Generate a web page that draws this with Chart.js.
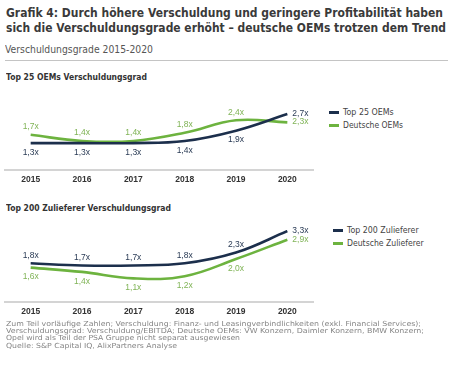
<!DOCTYPE html>
<html>
<head>
<meta charset="utf-8">
<script src="https://cdn.jsdelivr.net/npm/chart.js@4/dist/chart.umd.min.js"></script>
<style>
  html, body { margin:0; padding:0; background:#fff; }
  body { width:452px; height:367px; position:relative; overflow:hidden; font-family:"DejaVu Sans", Verdana, sans-serif; }
  .t { position:absolute; white-space:nowrap; transform-origin:0 50%; }
  canvas { position:absolute; left:0; }
  .leg { position:absolute; height:12px; }
  .leg i { position:absolute; left:0; top:5px; width:10px; height:3px; }
</style>
</head>
<body>
<div class="t" data-w="437" style="left:6px;top:4.5px;font-size:13px;line-height:16px;font-weight:bold;color:#3a3a3a;">Grafik 4: Durch höhere Verschuldung und geringere Profitabilität haben</div>
<div class="t" data-w="440" style="left:6px;top:20px;font-size:13px;line-height:16px;font-weight:bold;color:#3a3a3a;">sich die Verschuldungsgrade erhöht – deutsche OEMs trotzen dem Trend</div>
<div class="t" data-w="148" style="left:5px;top:43.5px;font-size:10px;line-height:12px;color:#555;">Verschuldungsgrade 2015-2020</div>
<div style="position:absolute;left:5px;top:60px;width:443px;height:1px;background:#c4c4c4;"></div>

<div class="t" data-w="141" style="left:6px;top:72px;font-size:8.5px;line-height:11px;font-weight:bold;color:#333;">Top 25 OEMs Verschuldungsgrad</div>
<canvas id="c1" width="320" height="100" style="top:90px;"></canvas>
<div class="leg" style="left:329px;top:106px;"><i style="background:#1c2f4c"></i></div>
<div class="t" data-w="50.7" style="left:342.7px;top:106px;font-size:8.5px;line-height:12px;color:#444;">Top 25 OEMs</div>
<div class="leg" style="left:329px;top:118.5px;"><i style="background:#6db33f"></i></div>
<div class="t" data-w="60" style="left:342.7px;top:118.5px;font-size:8.5px;line-height:12px;color:#444;">Deutsche OEMs</div>

<div class="t" data-w="165" style="left:6px;top:203px;font-size:8.5px;line-height:11px;font-weight:bold;color:#333;">Top 200 Zulieferer Verschuldungsgrad</div>
<canvas id="c2" width="320" height="102" style="top:220px;"></canvas>
<div class="leg" style="left:333px;top:223.5px;"><i style="background:#1c2f4c"></i></div>
<div class="t" data-w="71.7" style="left:346.7px;top:223.5px;font-size:8.5px;line-height:12px;color:#444;">Top 200 Zulieferer</div>
<div class="leg" style="left:333px;top:237px;"><i style="background:#6db33f"></i></div>
<div class="t" data-w="76.7" style="left:346.7px;top:237px;font-size:8.5px;line-height:12px;color:#444;">Deutsche Zulieferer</div>

<div class="t" data-w="415" style="left:6px;top:320px;font-size:7px;line-height:8px;color:#858585;">Zum Teil vorläufige Zahlen; Verschuldung: Finanz- und Leasingverbindlichkeiten (exkl. Financial Services);</div>
<div class="t" data-w="418" style="left:6px;top:327.3px;font-size:7px;line-height:8px;color:#858585;">Verschuldungsgrad: Verschuldung/EBITDA; Deutsche OEMs: VW Konzern, Daimler Konzern, BMW Konzern;</div>
<div class="t" data-w="234" style="left:6px;top:334.3px;font-size:7px;line-height:8px;color:#858585;">Opel wird als Teil der PSA Gruppe nicht separat ausgewiesen</div>
<div class="t" data-w="171" style="left:6px;top:341.7px;font-size:7px;line-height:8px;color:#858585;">Quelle: S&amp;P Capital IQ, AlixPartners Analyse</div>

<script>
// ---- data ----
const years = ['2015', '2016', '2017', '2018', '2019', '2020'];
const oemTop25 = [1.3, 1.3, 1.3, 1.4, 1.9, 2.7];
const oemDeutsche = [1.7, 1.4, 1.4, 1.8, 2.4, 2.3];
const zulTop200 = [1.8, 1.7, 1.7, 1.8, 2.3, 3.3];
const zulDeutsche = [1.6, 1.4, 1.1, 1.2, 2.0, 2.9];

const NAVY = '#1c2f4c', GREEN = '#6db33f';
const NAVY_TXT = '#2a3b55', GREEN_TXT = '#80b457';

// fit text widths
document.querySelectorAll('.t[data-w]').forEach(el => {
  const w = el.getBoundingClientRect().width;
  const target = parseFloat(el.dataset.w);
  el.style.transform = 'scaleX(' + (target / w) + ')';
});

const fmt = v => v.toFixed(1).replace('.', ',') + 'x';

const labelPlugin = {
  id: 'valueLabels',
  afterDatasetsDraw(chart) {
    const ctx = chart.ctx;
    ctx.save();
    ctx.font = '8.5px "Liberation Sans", Arial, sans-serif';
    ctx.textBaseline = 'middle';
    chart.data.datasets.forEach((ds, i) => {
      const meta = chart.getDatasetMeta(i);
      meta.data.forEach((pt, j) => {
        const last = j === meta.data.length - 1;
        ctx.fillStyle = ds.labelColor;
        if (last) {
          ctx.textAlign = 'left';
          ctx.fillText(fmt(ds.data[j]), pt.x + 5, pt.y - 0.5);
        } else {
          ctx.textAlign = 'center';
          const dy = ds.labelPos === 'above' ? -8 : 9.5;
          ctx.fillText(fmt(ds.data[j]), pt.x, pt.y + dy);
        }
      });
    });
    ctx.restore();
  }
};

function makeChart(id, a, b, labels, max) {
  return new Chart(document.getElementById(id), {
    type: 'line',
    data: {
      labels: years,
      datasets: [
        { label: labels[0], data: a, borderColor: NAVY, borderWidth: 2.6, pointRadius: 0, tension: 0.4, fill: false, labelColor: NAVY_TXT, labelPos: labels[2][0] },
        { label: labels[1], data: b, borderColor: GREEN, borderWidth: 2.6, pointRadius: 0, tension: 0.4, fill: false, labelColor: GREEN_TXT, labelPos: labels[2][1] }
      ]
    },
    options: {
      responsive: false,
      devicePixelRatio: 1,
      animation: false,
      layout: { padding: { left: 5, right: 7, top: 10, bottom: 0 } },
      plugins: { legend: { display: false }, tooltip: { enabled: false } },
      scales: {
        x: {
          offset: true,
          grid: { display: false, drawTicks: false },
          border: { display: true, color: '#d4d4d4', width: 2 },
          ticks: { color: '#333', padding: 5, font: { family: '"Liberation Sans", Arial, sans-serif', size: 8.5, weight: 'bold' } },
          afterFit: s => { s.height = 20; }
        },
        y: { display: false, min: 0, max: max }
      }
    },
    plugins: [labelPlugin]
  });
}

makeChart('c1', oemTop25, oemDeutsche, ['Top 25 OEMs', 'Deutsche OEMs', ['below', 'above']], 3.38);
makeChart('c2', zulTop200, zulDeutsche, ['Top 200 Zulieferer', 'Deutsche Zulieferer', ['above', 'below']], 3.35);
</script>
</body>
</html>
